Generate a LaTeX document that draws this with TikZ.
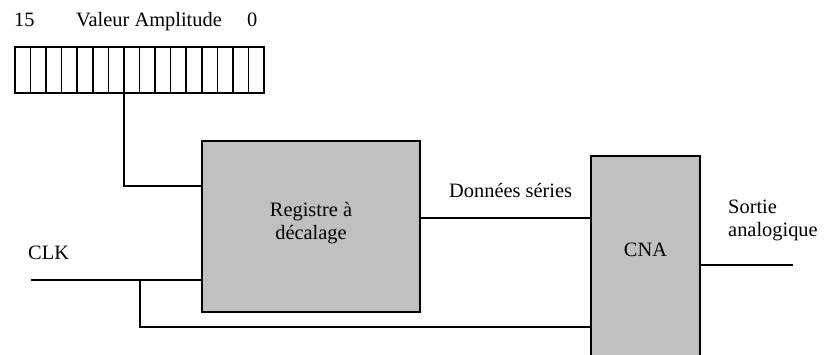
\documentclass[tikz,border=0pt]{standalone}
\usepackage{fontspec}
\setmainfont{Liberation Serif}
\begin{document}
\begin{tikzpicture}[x=1pt,y=-1pt,
  wire/.style={line width=1.6pt},
  blk/.style={draw,line width=1.8pt,fill=boxgray,inner sep=0},
  lbl/.style={anchor=base west,inner sep=0,font=\fontsize{20.4}{23.5}\selectfont,align=left},
  cell/.style={draw,line width=1.6pt,fill=white}]
\definecolor{boxgray}{RGB}{192,192,192}
\clip (0,0) rectangle (824,355);
\fill[white] (0,0) rectangle (824,355);
% top labels
\node[lbl] (n15) at (14,27) {15};
\node[lbl] (va) at (76,27) {Valeur Amplitude};
\node[lbl] (n0) at (247,27) {0};
% register strip
\foreach \i in {0,...,15}{
  \draw[cell] ({15+\i*15.5625},47) rectangle ({15+(\i+1)*15.5625},93);
}
\coordinate (tap) at ({15+7*15.5625},93);
% shift register
\node[blk,minimum width=218pt,minimum height=171pt] (reg) at (311,226.5) {};
\node[lbl,anchor=base,align=center] (regt) at (311,240) {Registre à\\décalage};
% CNA
\node[blk,minimum width=109pt,minimum height=220pt] (cna) at (645.5,266) {};
\node[lbl,anchor=base] (cnat) at (645.5,257) {CNA};
% labels
\node[lbl] (ds) at (449,198) {Données séries};
\node[lbl] (clk) at (28,260) {CLK};
\node[lbl] (so) at (728,237) {Sortie\\analogique};
% wires
\draw[wire] (tap) |- (reg.west |- 0,186);
\coordinate (clkin) at (31,280);
\draw[wire] (clkin) -- (reg.west |- clkin);
\coordinate (br) at (140,280);
\draw[wire] (br) |- (cna.west |- 0,327);
\draw[wire] (reg.east |- 0,218) -- (cna.west |- 0,218);
\coordinate (out) at (793,265);
\draw[wire] (cna.east |- out) -- (out);
\end{tikzpicture}
\end{document}
